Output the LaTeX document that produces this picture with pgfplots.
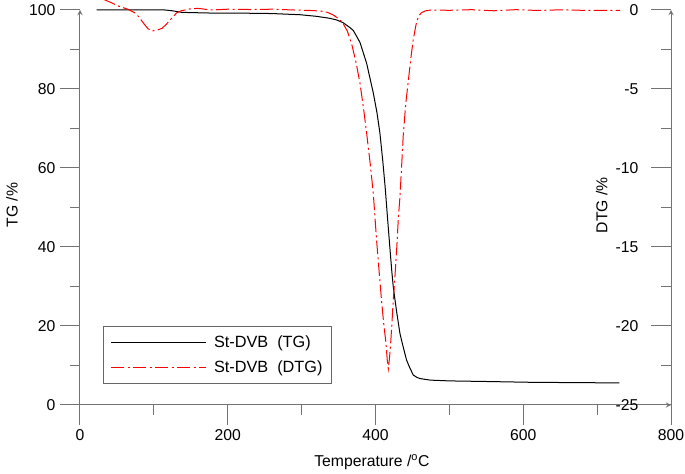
\documentclass[border=0pt]{standalone}
\usepackage{pgfplots}
\pgfplotsset{compat=1.18}
\usepackage{fontspec}
\setmainfont{Liberation Sans}
\begin{document}
\begin{tikzpicture}[font=\fontsize{11.8}{14}\selectfont]
\pgfplotsset{
  common/.style={
    scale only axis, width=443.25pt, height=296.25pt,
    xmin=0, xmax=800,
    /pgf/number format/assume math mode=true,
    tick style={black!55, line width=0.75pt},
    axis line style={-, black!55, line width=0.75pt},
    major tick length=15pt, minor tick length=7.5pt,
    ticklabel style={font=\fontsize{11.8}{14}\selectfont},
    label style={font=\fontsize{11.8}{14}\selectfont},
  }
}
\begin{axis}[common,
  axis x line=bottom, axis y line=left, tick align=outside,
  ymin=0, ymax=100, ytick={0,20,...,100}, minor y tick num=1,
  xtick={0,200,...,800}, minor x tick num=1,
  xlabel={Temperature /\textsuperscript{o}C},
  ylabel={TG /\%},
  xlabel style={at={(axis description cs:0.494,-0.144)}, anchor=center},
  ylabel style={at={(axis description cs:-0.115,0.506)}, anchor=center},
]
\addplot[black, line width=0.75pt] table {
22.6 100
60 100
115 100
125 99.8
138 99.4
160 99.3
183 99.2
220 99.2
260 99.1
298 98.8
320 98.4
338 97.9
347 97.5
356 96.8
365 95.6
370 94.8
379 91.8
388 86.5
397 79.0
402 74.0
406 68.8
410 61.5
413 55.3
416 48.0
419.6 39.5
422 34.0
424 30.0
426.4 26.6
428.7 23.5
433 18.2
436 15.8
442 11.4
446 9.6
451 7.6
456 7.0
460 6.7
474 6.3
500 6.1
550 5.95
609 5.75
680 5.65
730 5.6
};
\end{axis}
\begin{axis}[common,
  axis x line=none, axis y line=right, tick align=inside,
  ymin=-25, ymax=0, ytick={-25,-20,...,0}, minor y tick num=1,
  clip=false,
  yticklabel style={anchor=east, xshift=-21pt},
  ylabel={DTG /\%},
  ylabel style={at={(axis description cs:0.883,0.506)}, anchor=center},
  legend style={at={(axis description cs:0.0394,0.053)}, anchor=south west,
    draw=black!60, line width=0.6pt, inner xsep=5pt, inner ysep=5pt,
    row sep=4pt, font=\fontsize{12.2}{14}\selectfont},
  legend cell align=left,
  legend image code/.code={\draw[#1] (0pt,0pt) -- (71pt,0pt);},
]
\addlegendimage{black, line width=0.75pt}
\addlegendentry{\hspace*{4pt}St-DVB\ \ (TG)}
\addplot[red, line width=0.75pt, dash pattern=on 10pt off 2.5pt on 1.5pt off 2.5pt] table {
31 0.7
34 0.63
43 0.45
52 0.25
65 0.04
74 -0.17
80 -0.45
86 -0.84
92 -1.18
97 -1.33
104 -1.28
111 -1.16
117 -0.9
122 -0.63
127 -0.38
131 -0.17
137 -0.05
142 0
150 0.08
160 0.1
178 0.0
200 0.05
230 0.03
260 0.05
290 0.0
310 -0.03
325 -0.06
335 -0.15
343 -0.32
350 -0.55
356 -0.84
362 -1.35
368 -2.2
374 -3.4
379 -4.64
384 -6.3
388 -7.8
393 -9.8
397 -11.6
401.5 -14.6
405 -16.6
408 -18.3
411 -19.8
414.2 -21.1
416 -22.2
417.4 -22.7
419 -22.0
420.5 -21.1
422 -20.0
424 -18.4
426.4 -16.8
428.6 -15.2
431 -13.1
433 -11.9
435 -10.2
437.6 -7.9
441 -5.9
444.4 -4.5
448 -3.0
451 -1.9
455 -0.9
458 -0.42
462 -0.18
467 -0.06
475 0.0
500 -0.02
530 0.02
560 -0.05
590 0.02
620 -0.03
650 0.01
690 -0.03
731 -0.02
};
\addlegendentry{\hspace*{4pt}St-DVB\ \ (DTG)}
\end{axis}
\pgfresetboundingbox
\path[use as bounding box] (-60pt,-51.75pt) rectangle (453.75pt,303.75pt);
\end{tikzpicture}
\end{document}
